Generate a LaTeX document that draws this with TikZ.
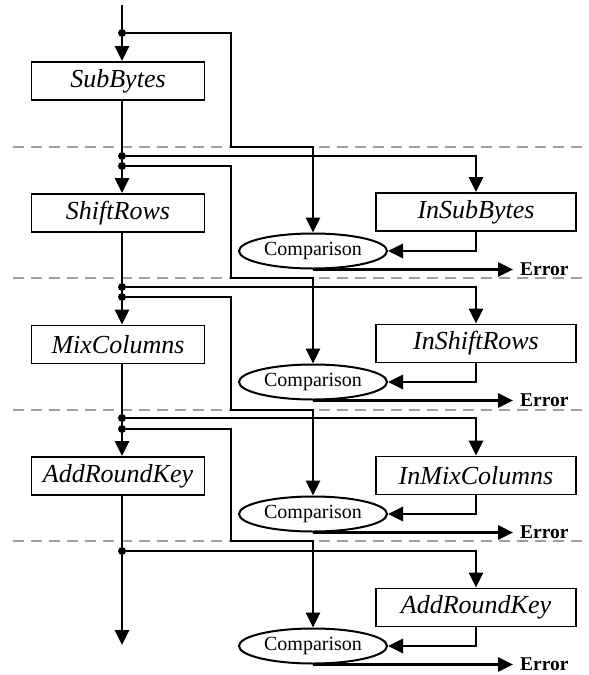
\documentclass[tikz,border=0pt]{standalone}
\usepackage{fontspec}
\setmainfont{Liberation Serif}
\usetikzlibrary{arrows.meta,shapes.geometric}
\begin{document}
\begin{tikzpicture}[x=1pt,y=-1pt,
  box/.style={draw,line width=1.8pt,minimum width=173pt,minimum height=38pt,inner sep=0pt,font=\fontsize{26}{30}\selectfont\itshape},
  inbox/.style={box,minimum width=200pt},
  cmp/.style={draw,ellipse,line width=2pt,minimum width=148pt,minimum height=35pt,inner sep=0pt,font=\fontsize{20}{22}\selectfont},
  err/.style={anchor=west,inner sep=0pt,font=\fontsize{19.5}{22}\selectfont\bfseries},
  wire/.style={line width=2.7pt},
  arr/.style={wire,-{Triangle[length=15pt,width=14pt]}},
  sep/.style={gray!75,line width=1.4pt,dash pattern=on 11pt off 7pt},
  dot/.style={circle,fill,inner sep=0pt,minimum size=8pt}
]
\path[use as bounding box] (0,0) rectangle (589,675);
\foreach \y in {147,278,410,541} \draw[sep] (13,\y) -- (589,\y);

\node[box] (m1) at (118,81) {SubBytes};
\node[box] (m2) at (118,213) {ShiftRows};
\node[box] (m3) at (118,344.5) {MixColumns};
\node[box] (m4) at (118,476) {AddRoundKey};
\node[inbox] (i1) at (476,212) {InSubBytes};
\node[inbox] (i2) at (476,343.5) {InShiftRows};
\node[inbox] (i3) at (476,475.5) {InMixColumns};
\node[inbox] (i4) at (476,607.5) {AddRoundKey};
\node[cmp] (c1) at (313,251) {Comparison};
\node[cmp] (c2) at (313,382) {Comparison};
\node[cmp] (c3) at (313,514) {Comparison};
\node[cmp] (c4) at (313,646) {Comparison};
\node[err] (e1) at ([xshift=207pt]c1.south) {Error};
\node[err] (e2) at ([xshift=207pt]c2.south) {Error};
\node[err] (e3) at ([xshift=207pt]c3.south) {Error};
\node[err] (e4) at ([xshift=207pt]c4.south) {Error};

\coordinate (top) at (122,5);
\node[dot] (d0) at (122,33) {};
\node[dot] (a1) at (122,156) {};
\node[dot] (b1) at (122,166) {};
\node[dot] (a2) at (122,287) {};
\node[dot] (b2) at (122,297) {};
\node[dot] (a3) at (122,418) {};
\node[dot] (b3) at (122,429) {};
\node[dot] (a4) at (122,551) {};
\coordinate (bot) at (122,645);
\coordinate (k1) at (231,147);
\coordinate (k2) at (231,278);
\coordinate (k3) at (231,410);
\coordinate (k4) at (231,541);

% main column
\draw[wire] (top) -- (d0);
\draw[arr] (d0) -- (d0 |- m1.north);
\draw[wire] (a1 |- m1.south) -- (a1) -- (b1);
\draw[arr] (b1) -- (b1 |- m2.north);
\draw[wire] (a2 |- m2.south) -- (a2) -- (b2);
\draw[arr] (b2) -- (b2 |- m3.north);
\draw[wire] (a3 |- m3.south) -- (a3) -- (b3);
\draw[arr] (b3) -- (b3 |- m4.north);
\draw[wire] (a4 |- m4.south) -- (a4);
\draw[arr] (a4) -- (bot);

% to inverse boxes
\draw[arr] (a1) -| (i1.north);
\draw[arr] (a2) -| (i2.north);
\draw[arr] (a3) -| (i3.north);
\draw[arr] (a4) -| (i4.north);

% to comparisons (inputs)
\draw[arr] (d0) -| (k1) -| (c1.north);
\draw[arr] (b1) -| (k2) -| (c2.north);
\draw[arr] (b2) -| (k3) -| (c3.north);
\draw[arr] (b3) -| (k4) -| (c4.north);

% inverse outputs
\draw[arr] (i1.south) |- (c1.east);
\draw[arr] (i2.south) |- (c2.east);
\draw[arr] (i3.south) |- (c3.east);
\draw[arr] (i4.south) |- (c4.east);

% errors
\draw[arr,shorten >=7pt] (c1.south) -- (e1.west);
\draw[arr,shorten >=7pt] (c2.south) -- (e2.west);
\draw[arr,shorten >=7pt] (c3.south) -- (e3.west);
\draw[arr,shorten >=7pt] (c4.south) -- (e4.west);
\end{tikzpicture}
\end{document}
